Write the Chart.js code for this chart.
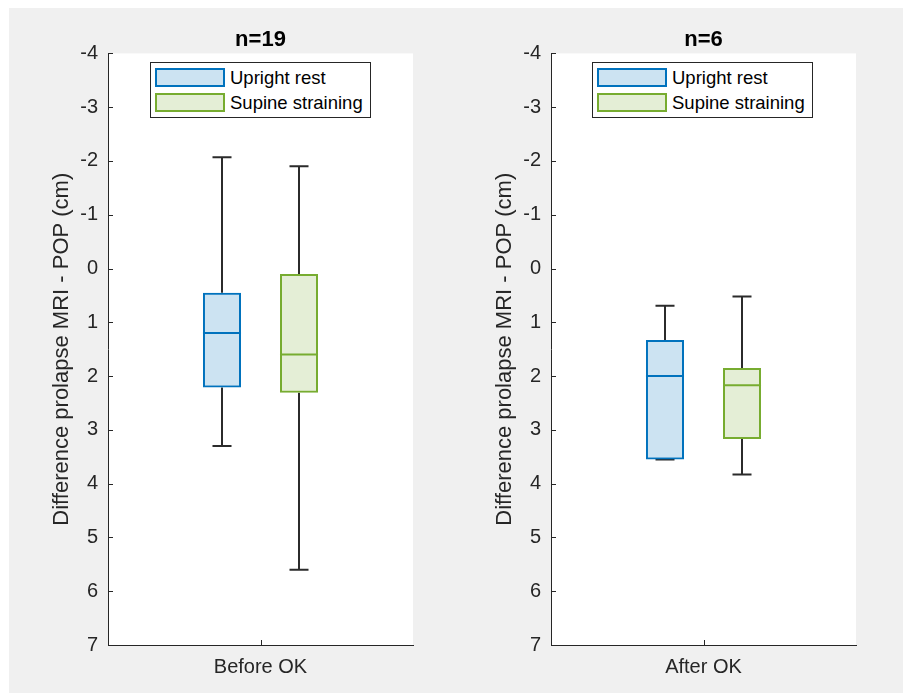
<!DOCTYPE html>
<html>
<head>
<meta charset="utf-8">
<script src="https://cdn.jsdelivr.net/npm/chart.js@4.4.0/dist/chart.umd.min.js"></script>
<style>
    html, body { margin: 0; padding: 0; background: #fff; }
    #figure { position: absolute; left: 9px; top: 8px; width: 894px; height: 685px; background: #f0f0f0; overflow: hidden; }
    .panel { position: absolute; top: 0; }
    .legend {
        position: absolute; top: 54px; width: 219px; height: 54px;
        background: #fff; border: 1px solid #262626;
        font: 18.5px "Liberation Sans", Arial, sans-serif; color: #000;
    }
    .legend-row { position: absolute; left: 4px; height: 19px; display: flex; align-items: center; white-space: nowrap; }
    .legend-patch { width: 66px; height: 15px; border: 2px solid; margin-right: 5px; flex: none; }
</style>
</head>
<body>
<div id="figure">
    <canvas id="chartBefore" class="panel" width="440" height="685" style="left:0px"></canvas>
    <canvas id="chartAfter" class="panel" width="451" height="685" style="left:443px"></canvas>
</div>
<script>
// Boxplot stats per series: [whisker top, q1, median, q3, whisker bottom] (cm)
const categories = ['Before OK', 'After OK'];
const panelTitles = ['n=19', 'n=6'];
const seriesNames = ['Upright rest', 'Supine straining'];
const uprightStats = [
    [-2.07, 0.45, 1.20, 2.21, 3.30],
    [0.69, 1.33, 2.00, 3.55, 3.55]
];
const supineStats = [
    [-1.90, 0.10, 1.60, 2.31, 5.60],
    [0.52, 1.85, 2.17, 3.17, 3.83]
];
const yMin = -4, yMax = 7;
const seriesBorder = ['#0072BD', '#77AC30'];
const seriesFill = ['rgba(0,114,189,0.2)', 'rgba(119,172,48,0.2)'];

const FONT = '"Liberation Sans", Arial, Helvetica, sans-serif';
const AXIS_COLOR = '#262626';

Chart.defaults.font.family = FONT;
Chart.defaults.color = AXIS_COLOR;

// white axes background, whiskers, medians and inward tick marks
const boxPlotPlugin = {
    id: 'boxPlot',
    beforeDraw(chart) {
        const { ctx, chartArea: a } = chart;
        ctx.save();
        ctx.fillStyle = '#fff';
        ctx.fillRect(a.left, a.top, a.right - a.left, a.bottom - a.top);
        ctx.restore();
    },
    beforeDatasetsDraw(chart) {
        const { ctx } = chart;
        const y = chart.scales.y;
        chart.data.datasets.forEach((ds, i) => {
            const bar = chart.getDatasetMeta(i).data[0];
            const s = ds.stats;
            const x = Math.round(bar.x);
            const cap = bar.width / 4;
            ctx.save();
            ctx.strokeStyle = '#2b2b2b';
            ctx.lineWidth = 2;
            ctx.beginPath();
            ctx.moveTo(x, y.getPixelForValue(s[1]));
            ctx.lineTo(x, y.getPixelForValue(s[0]));
            ctx.moveTo(x - cap, y.getPixelForValue(s[0]));
            ctx.lineTo(x + cap, y.getPixelForValue(s[0]));
            ctx.moveTo(x, y.getPixelForValue(s[3]));
            ctx.lineTo(x, y.getPixelForValue(s[4]));
            ctx.moveTo(x - cap, y.getPixelForValue(s[4]));
            ctx.lineTo(x + cap, y.getPixelForValue(s[4]));
            ctx.stroke();
            ctx.restore();
        });
    },
    afterDatasetsDraw(chart) {
        const { ctx } = chart;
        const y = chart.scales.y;
        chart.data.datasets.forEach((ds, i) => {
            const bar = chart.getDatasetMeta(i).data[0];
            const my = y.getPixelForValue(ds.stats[2]);
            ctx.save();
            ctx.strokeStyle = ds.borderColor;
            ctx.lineWidth = 2;
            ctx.beginPath();
            ctx.moveTo(bar.x - bar.width / 2, my);
            ctx.lineTo(bar.x + bar.width / 2, my);
            ctx.stroke();
            ctx.restore();
        });
    },
    afterDraw(chart) {
        const { ctx, chartArea: a } = chart;
        const y = chart.scales.y, x = chart.scales.x;
        ctx.save();
        ctx.strokeStyle = AXIS_COLOR;
        ctx.lineWidth = 1;
        ctx.beginPath();
        y.ticks.forEach(t => {
            const py = Math.round(y.getPixelForValue(t.value)) + 0.5;
            ctx.moveTo(a.left, py);
            ctx.lineTo(a.left + 5, py);
        });
        const px = Math.round(x.getPixelForTick(0)) + 0.5;
        ctx.moveTo(px, a.bottom);
        ctx.lineTo(px, a.bottom - 5);
        ctx.stroke();
        ctx.restore();
    }
};

function makePanel(canvasId, idx, rightPad) {
    const stats = [uprightStats[idx], supineStats[idx]];
    const ctx = document.getElementById(canvasId).getContext('2d');
    return new Chart(ctx, {
        type: 'bar',
        data: {
            labels: [categories[idx]],
            datasets: seriesNames.map((name, i) => ({
                label: name,
                data: [[stats[i][1], stats[i][3]]],
                stats: stats[i],
                backgroundColor: seriesFill[i],
                borderColor: seriesBorder[i],
                borderWidth: 2,
                borderSkipped: false,
                categoryPercentage: 0.505,
                barPercentage: 0.494
            }))
        },
        options: {
            responsive: false,
            animation: false,
            devicePixelRatio: 1,
            layout: { padding: { left: 0, right: rightPad, top: 0, bottom: 4 } },
            plugins: {
                legend: { display: false },
                tooltip: { enabled: false },
                title: {
                    display: true,
                    fullSize: false,
                    text: panelTitles[idx],
                    color: '#000',
                    font: { size: 22, weight: 'bold' },
                    padding: { top: 19, bottom: 0 }
                }
            },
            scales: {
                x: {
                    offset: true,
                    grid: { display: false, drawTicks: false },
                    border: { display: true, color: AXIS_COLOR, width: 1 },
                    ticks: { padding: 10, color: AXIS_COLOR, font: { size: 20 } }
                },
                y: {
                    reverse: true,
                    min: yMin,
                    max: yMax,
                    grid: { display: false, drawTicks: false },
                    border: { display: true, color: AXIS_COLOR, width: 1 },
                    ticks: { stepSize: 1, padding: 10, color: AXIS_COLOR, font: { size: 20 } },
                    title: {
                        display: true,
                        text: 'Difference prolapse MRI - POP (cm)',
                        color: AXIS_COLOR,
                        font: { size: 22 },
                        padding: { top: 40, bottom: 0 }
                    },
                    afterFit: scale => { scale.width = 99; }
                }
            }
        },
        plugins: [boxPlotPlugin]
    });
}

// html legend inside each axes
function addLegend(left) {
    const box = document.createElement('div');
    box.className = 'legend';
    box.style.left = left + 'px';
    seriesNames.forEach((name, i) => {
        const row = document.createElement('div');
        row.className = 'legend-row';
        row.style.top = (5 + i * 25) + 'px';
        row.innerHTML = `<div class="legend-patch" style="border-color:${seriesBorder[i]};background:${seriesFill[i]}"></div><span>${name}</span>`;
        box.appendChild(row);
    });
    document.getElementById('figure').appendChild(box);
}

makePanel('chartBefore', 0, 36);
makePanel('chartAfter', 1, 47);
addLegend(141);
addLegend(583);
</script>
</body>
</html>
